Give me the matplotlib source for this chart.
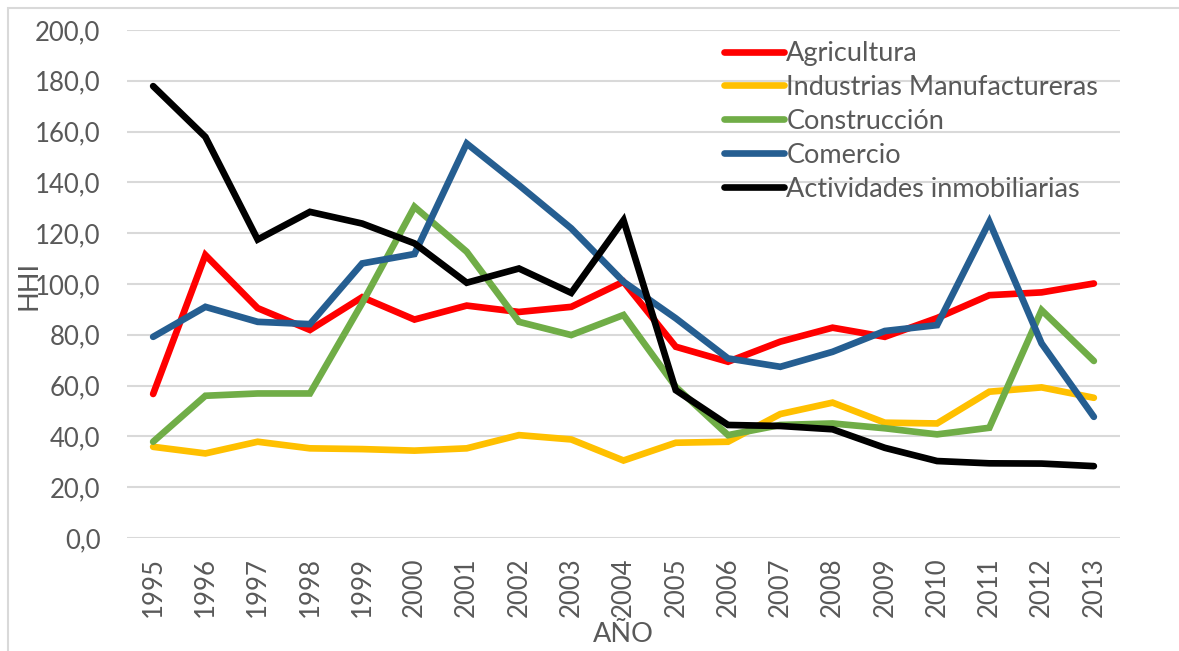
import numpy as np
import matplotlib
matplotlib.use("Agg")
from matplotlib import pyplot as plt
from matplotlib.patches import Rectangle
from matplotlib.ticker import FuncFormatter

years = [str(y) for y in range(1995, 2014)]

agricultura = [56.7, 111.4, 90.5, 81.9, 94.8, 86.0, 91.5, 89.0, 91.0, 100.9,
               75.3, 69.4, 77.3, 82.8, 79.2, 86.6, 95.6, 96.7, 100.2]
industrias = [35.9, 33.3, 37.9, 35.3, 35.0, 34.4, 35.3, 40.5, 38.8, 30.5,
              37.5, 37.9, 48.8, 53.3, 45.4, 45.1, 57.6, 59.3, 55.2]
construccion = [37.9, 56.0, 56.9, 56.9, 92.5, 130.4, 112.7, 85.1, 79.9, 87.8,
                59.5, 40.5, 44.5, 45.1, 43.2, 40.8, 43.4, 89.7, 69.7]
comercio = [79.2, 91.0, 85.1, 84.2, 108.1, 111.8, 155.3, 138.9, 121.9, 100.9,
            86.5, 70.7, 67.4, 73.3, 81.5, 83.8, 124.5, 76.6, 47.7]
inmobiliarias = [177.9, 157.9, 117.5, 128.4, 123.8, 116.0, 100.5, 106.1, 96.5, 125.1,
                 58.2, 44.5, 44.1, 42.8, 35.5, 30.3, 29.4, 29.3, 28.3]

series = [
    ("Agricultura", agricultura, "#ff0000"),
    ("Industrias Manufactureras", industrias, "#ffc000"),
    ("Construcción", construccion, "#70ad47"),
    ("Comercio", comercio, "#255e91"),
    ("Actividades inmobiliarias", inmobiliarias, "#000000"),
]

plt.rcParams['font.family'] = ['Lato', 'DejaVu Sans']
txt = "#595959"
fs = 19.5

fig = plt.figure(figsize=(11.79, 6.51), dpi=100)
ax = fig.add_axes([127/1179, 1 - 538/651, (1120 - 127)/1179, (538 - 30)/651])

x = np.arange(len(years))
for name, vals, col in series:
    ax.plot(x, vals, color=col, lw=4.8, label=name, solid_capstyle='round',
            solid_joinstyle='miter')

ax.set_xlim(-0.5, len(years) - 0.5)
ax.set_ylim(0, 200)
ax.set_yticks(np.arange(0, 201, 20))
ax.yaxis.set_major_formatter(FuncFormatter(lambda v, p: f"{v:.1f}".replace(".", ",")))
ax.set_xticks(x)
ax.set_xticklabels(years, rotation=90)
ax.tick_params(axis='both', length=0, labelsize=18.5, colors=txt)
ax.tick_params(axis='y', pad=19)
ax.tick_params(axis='x', pad=14)
ax.grid(axis='y', color='#d9d9d9', lw=1.5)
ax.set_axisbelow(True)
for s in ax.spines.values():
    s.set_visible(False)

fig.text(29/1179, 1 - 285/651, "HHI", rotation=90, fontsize=fs, color=txt,
         ha='center', va='center')
fig.text(623/1179, 1 - 635/651, "AÑO", fontsize=fs, color=txt,
         ha='center', va='center')

leg = ax.legend(loc='upper left', bbox_to_anchor=(724/1179, 1 - 41/651),
                bbox_transform=fig.transFigure, frameon=False, fontsize=fs,
                handlelength=2.2, handletextpad=0.1, labelspacing=0.33,
                borderpad=0, borderaxespad=0)
for t in leg.get_texts():
    t.set_color(txt)

fig.patches.append(Rectangle((8/1179, -0.1), 1.2, 1 - 8/651 + 0.1,
                             transform=fig.transFigure, fill=False,
                             edgecolor='#d9d9d9', lw=1.5))

fig.savefig("out.png", dpi=100)
